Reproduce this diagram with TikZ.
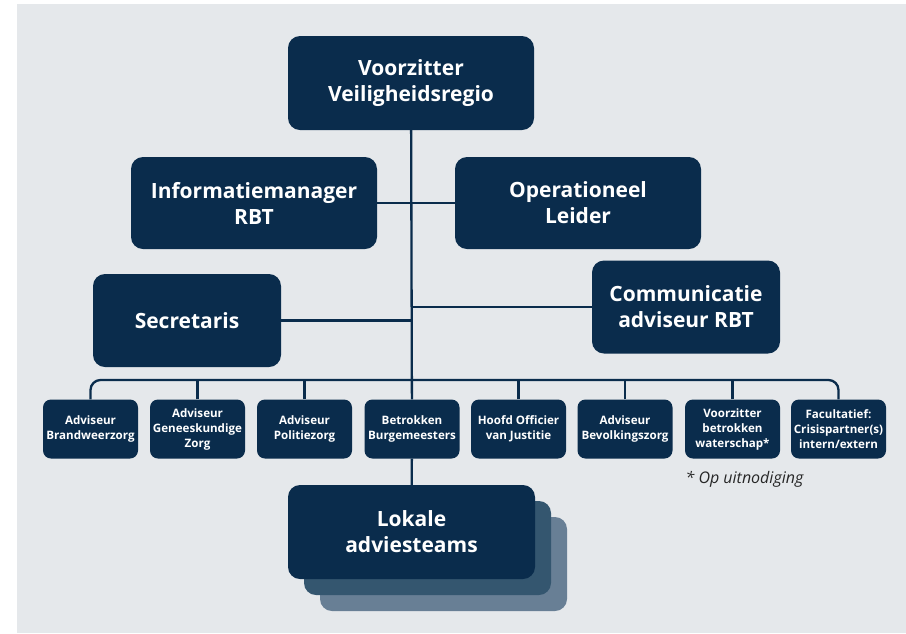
\documentclass[tikz,border=0pt]{standalone}
\usepackage{fontspec}
\setmainfont{Open Sans}
\usepackage{tikz}
\usetikzlibrary{calc}
\usetikzlibrary{positioning}

\definecolor{rbtnavy}{HTML}{0A2C4C}
\definecolor{rbtshadowA}{HTML}{34566F}
\definecolor{rbtshadowB}{HTML}{687F95}
\definecolor{rbtgray}{HTML}{E5E8EB}

\tikzset{
  bigbox/.style={fill=rbtnavy, text=white, rounded corners=12pt, align=center,
    font=\fontsize{21}{26}\selectfont\bfseries, inner sep=0pt},
  smallbox/.style={fill=rbtnavy, text=white, rounded corners=8pt, align=center,
    minimum width=95pt, minimum height=59pt, inner sep=0pt,
    font=\fontsize{11.6}{15}\selectfont\bfseries},
  link/.style={draw=rbtnavy, line width=2.3pt},
}

\begin{document}
\begin{tikzpicture}[x=1pt,y=-1pt]
\useasboundingbox (0,0) rectangle (906,633);
\fill[rbtgray] (17,4) rectangle (906,633);

% top of the structure
\node[bigbox, minimum width=246pt, minimum height=94pt] (voorz) at (411,83) {Voorzitter\\Veiligheidsregio};
\node[bigbox, minimum width=246pt, minimum height=92pt] (infom) at (254,203) {Informatiemanager\\RBT};
\node[bigbox, minimum width=246pt, minimum height=92pt] (opl) at (578,203) {Operationeel\\Leider};
\node[bigbox, minimum width=188pt, minimum height=93pt] (secr) at (187,320.5) {Secretaris};
\node[bigbox, minimum width=188pt, minimum height=93pt] (comm) at (686,307) {Communicatie\\adviseur RBT};

% advisors row
\node[smallbox] (adv1) at (90.5,429) {Adviseur\\Brandweerzorg};
\node[smallbox] (adv2) at (197.5,429) {Adviseur\\Geneeskundige\\Zorg};
\node[smallbox] (adv3) at (304.5,429) {Adviseur\\Politiezorg};
\node[smallbox] (adv4) at (412,429) {Betrokken\\Burgemeesters};
\node[smallbox] (adv5) at (518.5,429) {Hoofd Officier\\van Justitie};
\node[smallbox] (adv6) at (625,429) {Adviseur\\Bevolkingszorg};
\node[smallbox] (adv7) at (732.5,429) {Voorzitter\\betrokken\\waterschap*};
\node[smallbox] (adv8) at (838.5,429) {Facultatief:\\Crisispartner(s)\\intern/extern};

\node[text=black!85, font=\fontsize{16}{19}\selectfont\itshape] (note) at (744.5,479) {* Op uitnodiging};

% stacked local teams
\fill[rbtshadowB, rounded corners=12pt] (320,517) rectangle (567,611);
\fill[rbtshadowA, rounded corners=12pt] (304,501) rectangle (551,595);
\node[bigbox, minimum width=247pt, minimum height=94pt] (lokale) at (411.5,532) {Lokale\\adviesteams};

% lines
\coordinate (bus) at (412,380);
\draw[link] (voorz) -- (adv4);
\draw[link] (adv4) -- (lokale);
\draw[link] (infom) -- (opl);
\draw[link] (secr.east) -- (secr.east -| voorz.south);
\draw[link] (comm.west) -- (comm.west -| voorz.south);
\draw[link, rounded corners=10pt] (adv1.north) |- (bus) -| (adv8.north);
\foreach \i in {2,3,5,6,7} {
  \draw[link] (adv\i.north) -- (adv\i.north |- bus);
}
\end{tikzpicture}
\end{document}
